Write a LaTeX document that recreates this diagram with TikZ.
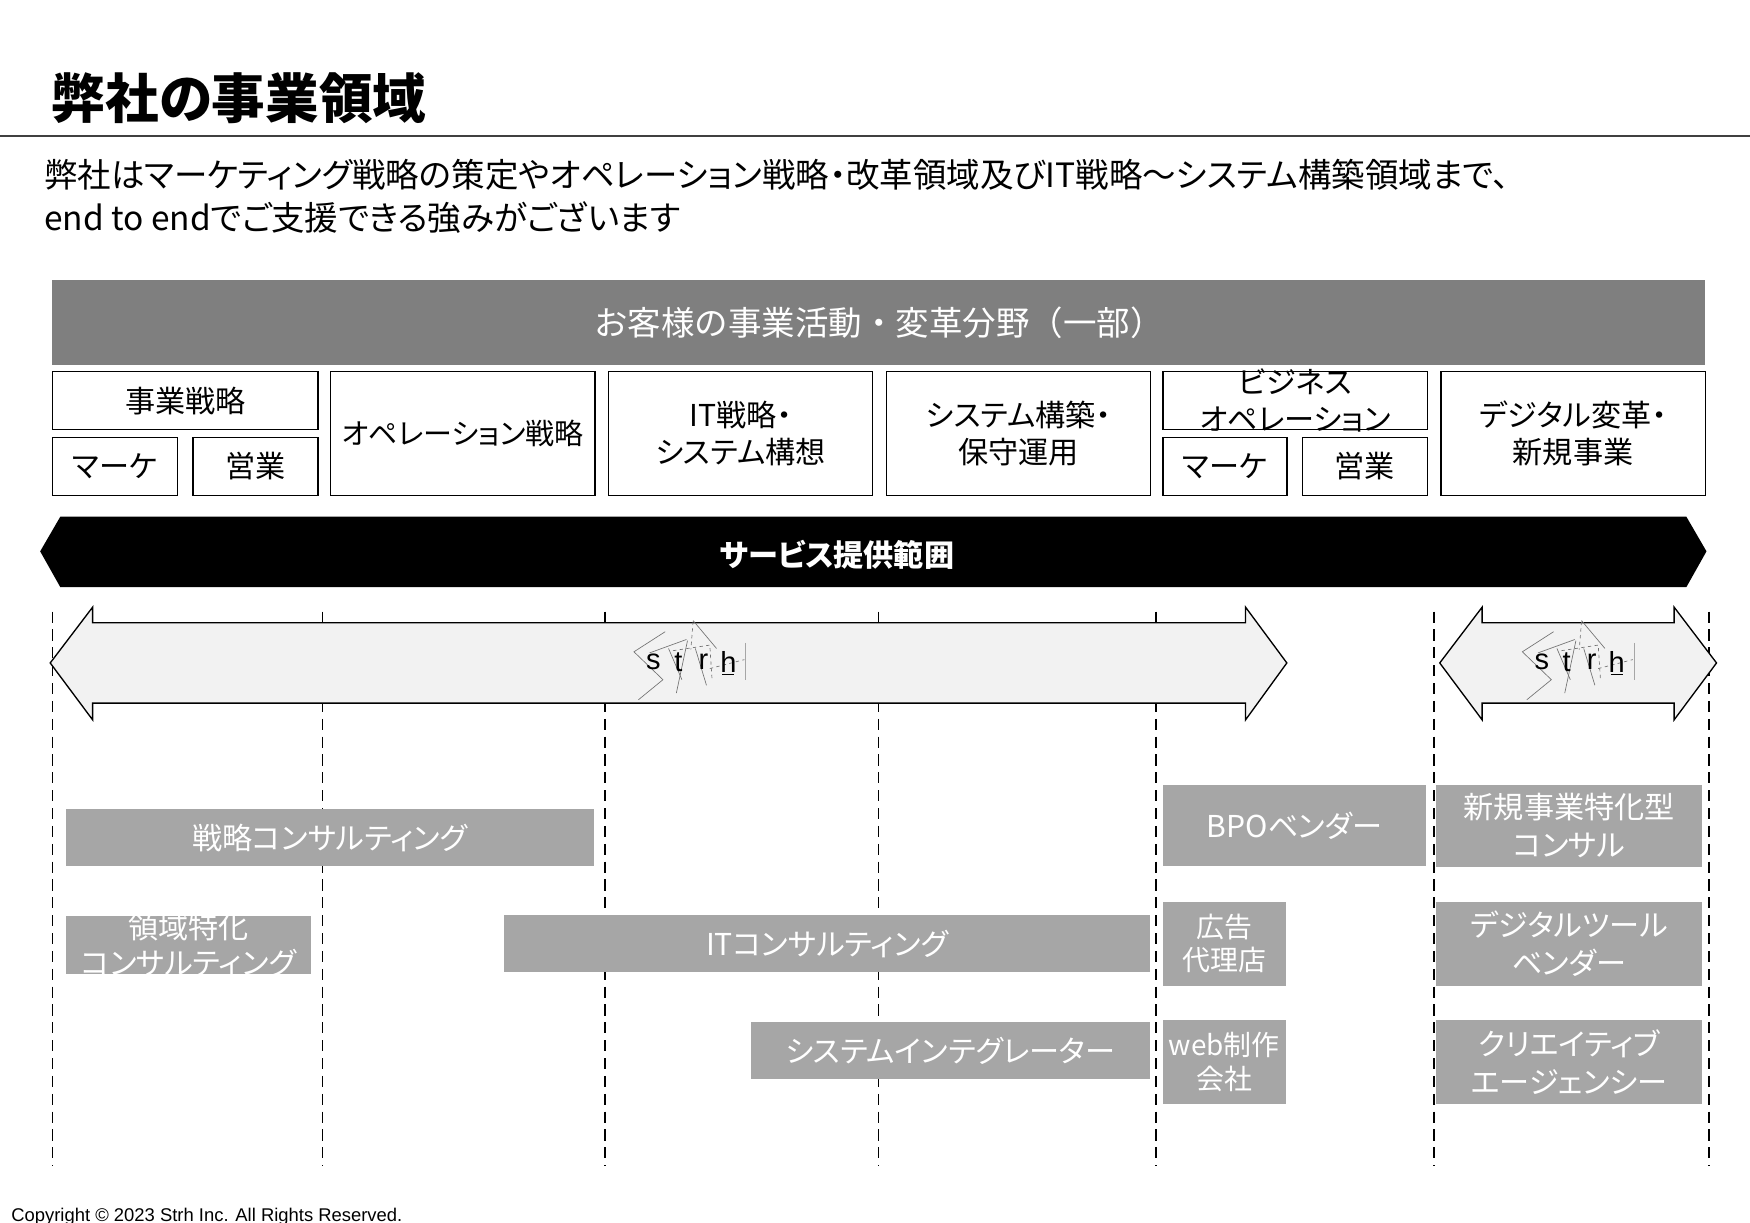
\documentclass[tikz,border=0pt]{standalone}
\usepackage{fontspec}
\setmainfont{Noto Sans CJK JP}[RawFeature={+palt}]
\newfontfamily\widefont{Noto Sans CJK JP}
\newfontfamily\latinfont{Liberation Sans}
\definecolor{bargray}{HTML}{7F7F7F}
\definecolor{boxgray}{HTML}{A6A6A6}
\definecolor{arrowgray}{HTML}{F2F2F2}
\begin{document}
\begin{tikzpicture}[x=1pt, y=-1pt,
  catbox/.style={draw, line width=1.2pt, inner sep=0pt, align=center, font=\fontsize{27}{33}\selectfont},
  provbox/.style={fill=boxgray, text=white, inner sep=0pt, align=center, font=\fontsize{27}{34}\selectfont},
  guide/.style={line width=1.4pt, dash pattern=on 10pt off 6pt},
  rangearrow/.style={draw, line width=1.2pt, fill=arrowgray},
  logoline/.style={black!55, line width=0.6pt}]
\useasboundingbox (0,0) rectangle (1568,1095);

% Title
\node[anchor=west, font=\fontsize{48}{56}\selectfont\bfseries] (title) at (43,88) {弊社の事業領域};
\draw[line width=1.2pt, black!75] (0,122) -- (1568,122);
\node[anchor=west, align=left, font=\fontsize{30}{38}\selectfont] (lead) at (36,176)
  {弊社はマーケティング戦略の策定やオペレーション戦略・改革領域及びIT戦略～システム構築領域まで、\\end to endでご支援できる強みがございます};

% Customer fields
\node[fill=bargray, text=white, minimum width=1481, minimum height=76, font=\widefont\fontsize{30}{36}\selectfont] (field) at (787.5,289) {お客様の事業活動・変革分野（一部）};

\node[catbox, minimum width=238, minimum height=52] (bizstrat) at (166,359) {事業戦略};
\node[catbox, minimum width=112, minimum height=52] (mkt1) at (103,418) {マーケ};
\node[catbox, minimum width=112, minimum height=52] (sales1) at (229,418) {営業};
\node[catbox, minimum width=237, minimum height=111, font=\fontsize{26}{33}\selectfont] (opstrat) at (414.5,388.5) {オペレーション戦略};
\node[catbox, minimum width=237, minimum height=111] (itstrat) at (663.5,388.5) {IT戦略・\\システム構想};
\node[catbox, minimum width=237, minimum height=111] (sysbuild) at (912.5,388.5) {システム構築・\\保守運用};
\node[catbox, minimum width=237, minimum height=52] (bizop) at (1160.5,359) {};
\node[catbox, draw=none] (bizoptext) at (bizop) {ビジネス\\オペレーション};
\node[catbox, minimum width=111, minimum height=52] (mkt2) at (1097.5,418) {マーケ};
\node[catbox, minimum width=112, minimum height=52] (sales2) at (1223,418) {営業};
\node[catbox, minimum width=237, minimum height=111] (dx) at (1409.5,388.5) {デジタル変革・\\新規事業};

% Service range
\fill (54,463) -- (1511,463) -- (1529,494) -- (1511,526) -- (54,526) -- (36,494) -- cycle;
\node[text=white, font=\fontsize{27}{32}\selectfont\bfseries] (scope) at (750,497) {サービス提供範囲};

% Guides
\foreach \gx in {47,289,542,787,1036,1285,1531}
  \draw[guide] (\gx,548) -- (\gx,1045);

% Strh range
\draw[rangearrow] (45,594) -- (83,544) -- (83,558) -- (1116,558) -- (1116,544) -- (1153,594)
  -- (1116,645) -- (1116,630) -- (83,630) -- (83,645) -- cycle;
\draw[rangearrow] (1290,594) -- (1328,544) -- (1328,558) -- (1500,558) -- (1500,544) -- (1538,594)
  -- (1500,645) -- (1500,630) -- (1328,630) -- (1328,645) -- cycle;

% Logo
\foreach \lx in {619,1415} {
\begin{scope}[shift={(\lx,594)}]
  \draw[logoline] (-23,-28) -- (-51,-10) -- (-25,15) -- (-47,33);
  \draw[logoline] (-37,-9) -- (-4,-21);
  \draw[logoline] (2,-38) -- (23,-13);
  \draw[logoline] (-20,-13) -- (-8,15);
  \draw[logoline] (-3,-20) -- (-13,27);
  \draw[logoline] (4,-13) -- (14,20);
  \draw[logoline, dashed] (2,-37) -- (0,-12);
  \draw[logoline, dashed] (-16,-11) -- (17,-16) -- (19,15);
  \draw[logoline, dashed] (17,5) -- (48,-3);
  \draw[black!35, line width=0.8pt] (49,-18) -- (49,15);
  \draw[line width=1pt] (28,10) -- (39,10);
  \foreach \ch/\dx in {s/-33.6, t/-11.2, r/11.2, h/33.6}
    \node[font=\latinfont\fontsize{26}{26}\selectfont, inner sep=0pt] (logo-\ch-\lx) at (\dx,-1) {\ch};
\end{scope}
}

% Providers
\node[provbox, minimum width=473, minimum height=51] (stratcons) at (295.5,750.5) {戦略コンサルティング};
\node[provbox, minimum width=220, minimum height=52] (areacons) at (169,847) {};
\node[provbox, fill=none, font=\fontsize{27}{32}\selectfont] (areaconstext) at (areacons) {領域特化\\コンサルティング};
\node[provbox, minimum width=578, minimum height=51] (itcons) at (741,845.5) {ITコンサルティング};
\node[provbox, minimum width=357, minimum height=51] (sier) at (851.5,941.5) {システムインテグレーター};
\node[provbox, minimum width=236, minimum height=73] (bpo) at (1160,739.5) {BPOベンダー};
\node[provbox, minimum width=110, minimum height=75, font=\fontsize{25}{30}\selectfont] (adagency) at (1097,845.5) {広告\\代理店};
\node[provbox, minimum width=110, minimum height=75, font=\fontsize{25}{30}\selectfont] (webprod) at (1097,951.5) {web制作\\会社};
\node[provbox, minimum width=238, minimum height=74] (newbiz) at (1406,740) {新規事業特化型\\コンサル};
\node[provbox, minimum width=238, minimum height=75] (dtool) at (1406,845.5) {デジタルツール\\ベンダー};
\node[provbox, minimum width=238, minimum height=75] (creative) at (1406,951.5) {クリエイティブ\\エージェンシー};

\node[anchor=base west, font=\latinfont\fontsize{16.5}{16.5}\selectfont, inner sep=0pt] (copyright) at (10,1094) {Copyright © 2023 Strh Inc. All Rights Reserved.};
\end{tikzpicture}
\end{document}
